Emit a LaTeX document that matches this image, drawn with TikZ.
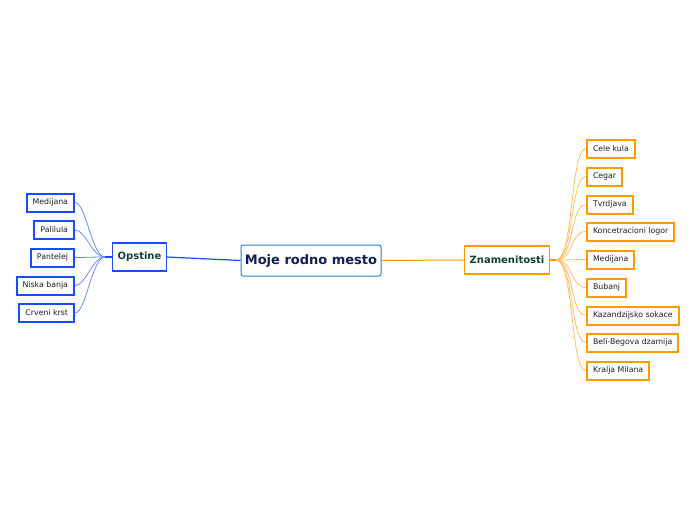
\documentclass[tikz,border=0pt]{standalone}
\usepackage{fontspec}
\setmainfont{DejaVu Sans}
\usepackage{tikz}
\usetikzlibrary{positioning}
\usepackage{xcolor}
\definecolor{MapBlue}{RGB}{26,76,255}
\definecolor{MapLine}{RGB}{100,140,255}
\definecolor{MapOrange}{RGB}{255,153,0}
\definecolor{MapPeach}{RGB}{255,190,100}
\definecolor{MapCore}{RGB}{42,128,200}
\definecolor{MapNavy}{RGB}{16,32,80}
\definecolor{MapGreen}{RGB}{16,64,48}
\definecolor{MapText}{RGB}{30,30,30}

\begin{document}
\begin{tikzpicture}[x=1pt,y=-1pt,
  core/.style={draw=MapCore,fill=white,rounded corners=2pt,line width=1pt,
               minimum height=31pt,minimum width=140pt,inner sep=3pt,
               font=\fontsize{13}{15}\selectfont\bfseries,text=MapNavy},
  branch/.style={fill=white,line width=1.2pt,minimum height=28pt,inner xsep=5pt,
                 font=\fontsize{10}{12}\selectfont\bfseries,text=MapGreen},
  leaf/.style={fill=white,line width=2pt,minimum height=18pt,inner xsep=6pt,
               font=\fontsize{7.8}{9}\selectfont,text=MapText},
  bleaf/.style={leaf,draw=MapBlue,anchor=east},
  oleaf/.style={leaf,draw=MapOrange,anchor=west},
]
\useasboundingbox (0,0) rectangle (696,520);

\node[core] (center) at (311,260.5) {Moje rodno mesto};
\node[branch,draw=MapBlue] (opstine) at (139.5,257) {Opstine};
\node[branch,draw=MapOrange] (znam) at (507,260) {Znamenitosti};

% opstine
\node[bleaf] (o1) at (75,202.5) {Medijana};
\node[bleaf] (o2) at (75,230) {Palilula};
\node[bleaf] (o3) at (75,257.5) {Pantelej};
\node[bleaf] (o4) at (75,285.5) {Niska banja};
\node[bleaf] (o5) at (75,313) {Crveni krst};

% znamenitosti
\node[oleaf] (z1) at (586,148.5) {Cele kula};
\node[oleaf] (z2) at (586,176.5) {Cegar};
\node[oleaf] (z3) at (586,204.5) {Tvrdjava};
\node[oleaf] (z4) at (586,231.5) {Koncetracioni logor};
\node[oleaf] (z5) at (586,259.5) {Medijana};
\node[oleaf] (z6) at (586,287.5) {Bubanj};
\node[oleaf] (z7) at (586,315.5) {Kazandzijsko sokace};
\node[oleaf] (z8) at (586,342.5) {Beli-Begova dzamija};
\node[oleaf] (z9) at (586,370.5) {Kralja Milana};

\coordinate (ohub) at (105,257);
\coordinate (zhub) at (556,260);

\draw[MapBlue,line width=1.2pt] (center.west) -- (opstine.east);
\draw[MapOrange,line width=1pt] (center.east) -- (znam.west);
\draw[MapBlue,line width=1.2pt] (opstine.west) -- (ohub);
\draw[MapOrange,line width=1.2pt] (znam.east) -- (zhub);
\foreach \n in {o1,o2,o3,o4,o5}
  \draw[MapLine,line width=0.8pt] (ohub) .. controls +(-13,0) and +(11,0) .. (\n.east);
\foreach \n in {z1,z2,z3,z4,z5,z6,z7,z8,z9}
  \draw[MapPeach,line width=0.8pt] (zhub) .. controls +(18,0) and +(-16,0) .. (\n.west);
\end{tikzpicture}
\end{document}
